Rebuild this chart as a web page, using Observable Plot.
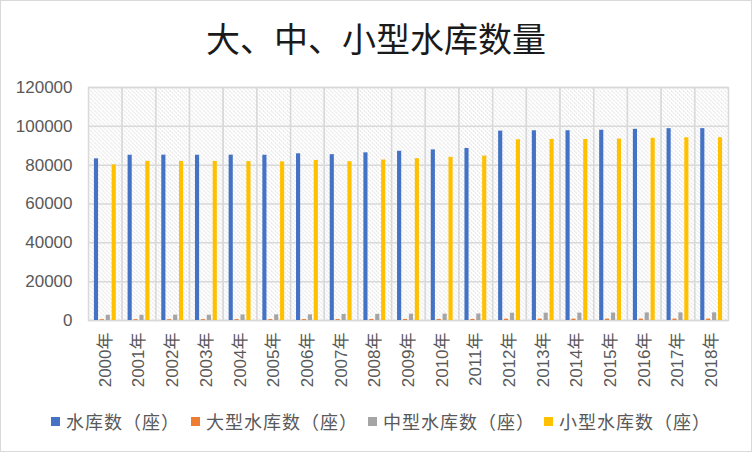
<!DOCTYPE html>
<html>
<head>
<meta charset="utf-8">
<script src="https://cdn.jsdelivr.net/npm/d3@7"></script>
<script src="https://cdn.jsdelivr.net/npm/@observablehq/plot@0.6"></script>
<style>
  html, body { margin: 0; padding: 0; background: #fff; }
  #chart {
    position: relative; width: 750px; height: 450px;
    border: 1px solid #d9d9d9; background: #fff; overflow: hidden;
    font-family: "Liberation Sans", "Noto Sans CJK SC", sans-serif;
  }
  #title {
    position: absolute; left: 0; top: 20px; width: 750px; text-align: center;
    font-family: "Noto Sans CJK SC", sans-serif; font-size: 34px; line-height: 34px;
    color: #1a1a1a; font-weight: 400;
  }
  #plot { position: absolute; left: 0; top: 60px; }
  #legend { position: absolute; left: 0; top: 406px; width: 750px; height: 28px;
    font-family: "Noto Sans CJK SC", sans-serif; font-size: 18px; line-height: 28px; color: #595959;
    letter-spacing: 1px; }
  .item { position: absolute; top: 0; display: flex; align-items: center; white-space: nowrap; }
  .sw { width: 9px; height: 9px; margin-right: 6px; }
</style>
</head>
<body>
<div id="chart">
  <div id="title">大、中、小型水库数量</div>
  <div id="plot"></div>
  <div id="legend"></div>
</div>
<script>
const years = ["2000年","2001年","2002年","2003年","2004年","2005年","2006年","2007年","2008年","2009年","2010年","2011年","2012年","2013年","2014年","2015年","2016年","2017年","2018年"];
const seriesNames = ["水库数（座）","大型水库数（座）","中型水库数（座）","小型水库数（座）"];
const seriesColors = ["#4472C4","#ED7D31","#A5A5A5","#FFC000"];
const totalRes = [83260,85120,85153,85108,85160,85108,85849,85412,86353,87151,87873,88605,97543,97721,97735,97988,98460,98795,98822];
const largeRes = [420,433,445,453,460,470,482,493,529,544,552,567,683,687,697,707,720,732,736];
const mediumRes = [2704,2704,2761,2736,2869,2934,2932,3110,3181,3259,3269,3346,3758,3774,3799,3844,3890,3934,3954];
const smallRes = [80136,81983,81947,81919,81831,81704,82435,81809,82643,83348,84052,84692,93102,93260,93239,93437,93850,94129,94132];
const yTicks = [0,20000,40000,60000,80000,100000,120000];

const seriesValues = [totalRes, largeRes, mediumRes, smallRes];
const data = [];
years.forEach((yr, i) => {
  seriesNames.forEach((s, j) => data.push({year: yr, series: s, value: seriesValues[j][i]}));
});

const plot = Plot.plot({
  width: 750,
  height: 340,
  marginTop: 26,
  marginLeft: 87,
  marginRight: 23,
  marginBottom: 81,
  style: {fontFamily: '"Liberation Sans", "Noto Sans CJK SC", sans-serif', fontSize: "17px", color: "#595959", background: "transparent"},
  fx: {domain: years, padding: 0, round: false, label: null, axis: "bottom", tickRotate: -90, tickSize: 0, tickPadding: 12},
  x: {domain: seriesNames, paddingInner: 0.3, paddingOuter: 1, round: false, axis: null},
  y: {domain: [0, 120000], ticks: yTicks, tickFormat: d => String(d), label: null, tickSize: 0, tickPadding: 16},
  color: {domain: seriesNames, range: seriesColors},
  marks: [
    Plot.frame({fill: "url(#hatch)", stroke: "#d9d9d9", strokeWidth: 1.5}),
    Plot.ruleY(yTicks, {stroke: "#d9d9d9", strokeWidth: 1.5}),
    Plot.barY(data, {fx: "year", x: "series", y: "value", fill: "series"})
  ]
});

const ns = "http://www.w3.org/2000/svg";
const defs = document.createElementNS(ns, "defs");
defs.innerHTML = '<pattern id="hatch" patternUnits="userSpaceOnUse" width="4" height="4">' +
  '<rect width="4" height="4" fill="#ffffff"/>' +
  '<path d="M-1,-1 L5,5 M-1,3 L1,5 M3,-1 L5,1" stroke="#d3d3d3" stroke-width="1" stroke-dasharray="2,1"/>' +
  '</pattern>';
plot.insertBefore(defs, plot.firstChild);
document.getElementById("plot").appendChild(plot);

const legendX = [50, 190, 367, 543];
const legend = document.getElementById("legend");
seriesNames.forEach((s, j) => {
  const it = document.createElement("div");
  it.className = "item";
  it.style.left = legendX[j] + "px";
  const sw = document.createElement("div");
  sw.className = "sw";
  sw.style.background = seriesColors[j];
  const tx = document.createElement("span");
  tx.textContent = s;
  it.appendChild(sw); it.appendChild(tx);
  legend.appendChild(it);
});
</script>
</body>
</html>
